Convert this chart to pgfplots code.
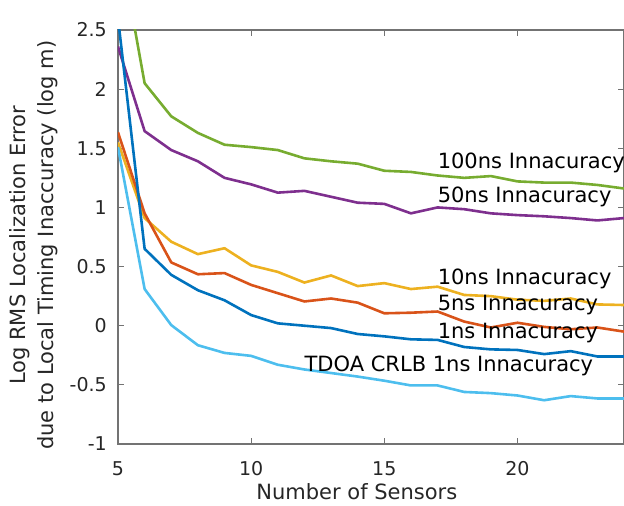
\documentclass[border=0pt]{standalone}
\usepackage{pgfplots}
\pgfplotsset{compat=1.18}
\usepackage{fontspec}
\setmainfont{DejaVu Sans}
\definecolor{c1}{HTML}{0072BD}
\definecolor{c2}{HTML}{D95319}
\definecolor{c3}{HTML}{EDB120}
\definecolor{c4}{HTML}{7E2F8E}
\definecolor{c5}{HTML}{77AC30}
\definecolor{c6}{HTML}{4DBEEE}
\definecolor{txt}{HTML}{262626}
\begin{document}
\begin{tikzpicture}
\begin{axis}[
  at={(0,0)}, anchor=south west,
  scale only axis, width=506pt, height=414pt,
  xmin=5, xmax=24, ymin=-1, ymax=2.5,
  xtick={5,10,15,20}, ytick={-1,-0.5,0,0.5,1,1.5,2,2.5},
  yticklabels={-1,-0.5,0,0.5,1,1.5,2,2.5},
  xticklabels={5,10,15,20},
  tick align=inside, major tick length=6pt,
  axis line style={black!55, line width=1.2pt},
  tick style={black!55, line width=1pt},
  every tick label/.append style={font=\fontsize{19}{22}\selectfont, text=txt},
  xticklabel style={anchor=base, inner sep=0pt, yshift=-31pt},
  yticklabel style={anchor=east, inner sep=0pt, xshift=-11pt},
  xlabel={Number of Sensors},
  xlabel style={at={(axis description cs:0.472,0)}, anchor=base, yshift=-56pt, inner sep=0pt, font=\fontsize{21}{25}\selectfont, text=txt},
  ylabel={Log RMS Localization Error\\due to Local Timing Inaccuracy (log m)},
  ylabel style={at={(axis description cs:0,0.48)}, anchor=south, yshift=60pt, inner sep=0pt, align=center, font=\fontsize{21}{28}\selectfont, text=txt},
  every axis plot/.append style={line width=2.6pt, line join=round, no markers},
]
\addplot[c5] table {
5 3.3
6 2.05
7 1.77
8 1.63
9 1.53
10 1.51
11 1.485
12 1.415
13 1.39
14 1.37
15 1.31
16 1.30
17 1.27
18 1.25
19 1.265
20 1.22
21 1.21
22 1.21
23 1.19
24 1.16
};
\addplot[c4] table {
5 2.36
6 1.645
7 1.485
8 1.39
9 1.25
10 1.195
11 1.125
12 1.14
13 1.09
14 1.04
15 1.03
16 0.95
17 1.00
18 0.985
19 0.95
20 0.935
21 0.925
22 0.91
23 0.89
24 0.91
};
\addplot[c3] table {
5 1.55
6 0.91
7 0.71
8 0.605
9 0.655
10 0.51
11 0.455
12 0.365
13 0.425
14 0.335
15 0.36
16 0.31
17 0.33
18 0.26
19 0.25
20 0.22
21 0.21
22 0.23
23 0.18
24 0.175
};
\addplot[c2] table {
5 1.635
6 0.95
7 0.535
8 0.435
9 0.445
10 0.345
11 0.275
12 0.205
13 0.23
14 0.195
15 0.105
16 0.11
17 0.12
18 0.035
19 -0.015
20 0.025
21 -0.01
22 -0.03
23 -0.015
24 -0.05
};
\addplot[c1] table {
5 2.6
6 0.65
7 0.43
8 0.30
9 0.215
10 0.09
11 0.02
12 0.0
13 -0.02
14 -0.07
15 -0.09
16 -0.115
17 -0.12
18 -0.18
19 -0.20
20 -0.205
21 -0.24
22 -0.215
23 -0.26
24 -0.26
};
\addplot[c6] table {
5 1.51
6 0.31
7 0.005
8 -0.165
9 -0.23
10 -0.255
11 -0.33
12 -0.37
13 -0.40
14 -0.43
15 -0.465
16 -0.505
17 -0.505
18 -0.56
19 -0.57
20 -0.59
21 -0.63
22 -0.595
23 -0.615
24 -0.615
};
\begin{scope}[every node/.style={anchor=west, inner sep=0pt, font=\fontsize{21}{25}\selectfont, text=black}]
\node at (axis cs:17,1.38) {100ns Innacuracy};
\node at (axis cs:17,1.09) {50ns Innacuracy};
\node at (axis cs:17,0.40) {10ns Innacuracy};
\node at (axis cs:17,0.175) {5ns Innacuracy};
\node at (axis cs:17,-0.065) {1ns Innacuracy};
\node at (axis cs:12,-0.34) {TDOA CRLB 1ns Innacuracy};
\end{scope}
\end{axis}
\pgfresetboundingbox
\path[use as bounding box] (-118pt,-62pt) rectangle (506pt,444pt);
\end{tikzpicture}
\end{document}
